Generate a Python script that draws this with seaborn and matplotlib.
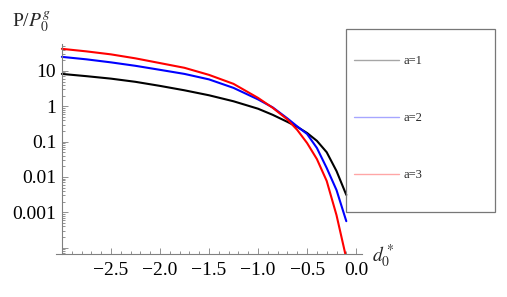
import numpy as np
import pandas as pd
import matplotlib
matplotlib.use("Agg")
import matplotlib.pyplot as plt
import seaborn as sns
from matplotlib.patches import Rectangle
from matplotlib.ticker import FixedLocator, FuncFormatter

# значення
d0 = [-3.0, -2.75, -2.5, -2.25, -2.0, -1.75, -1.5, -1.25, -1.0,
      -0.85, -0.7, -0.6, -0.5, -0.4, -0.3, -0.2, -0.1]
p_a1 = [8.2, 7.08, 6.03, 4.9, 3.76, 2.82, 2.04, 1.38, 0.85,
        0.57, 0.36, 0.26, 0.175, 0.105, 0.050, 0.0147, 0.0031]
p_a2 = [24.9, 21.2, 17.4, 13.9, 10.7, 8.2, 5.74, 3.30, 1.56,
        0.925, 0.45, 0.268, 0.164, 0.066, 0.0179, 0.00426, 0.00056]
p_a3 = [42.0, 35.6, 29.3, 22.6, 16.6, 12.2, 7.7, 4.29, 1.72,
        0.90, 0.42, 0.213, 0.091, 0.032, 0.0077, 0.00083, 0.00005]
labels = ["a=1", "a=2", "a=3"]
colors = ["black", "blue", "red"]

y_ticks = [10, 1, 0.1, 0.01, 0.001, 0.0001]
y_tick_labels = ["10", "1", "0.1", "0.01", "0.001", ""]
x_ticks = [-2.5, -2.0, -1.5, -1.0, -0.5, 0.0]

df = pd.DataFrame({
    "d": d0 * 3,
    "P": p_a1 + p_a2 + p_a3,
    "a": [labels[0]] * len(d0) + [labels[1]] * len(d0) + [labels[2]] * len(d0),
})

sns.set_style("ticks")
plt.rcParams["font.family"] = ["Liberation Serif", "DejaVu Serif"]
plt.rcParams["mathtext.fontset"] = "stix"

fig = plt.figure(figsize=(5.07, 2.97), dpi=100)
ax = fig.add_axes([56 / 507, 1 - 254 / 297, 306 / 507, 210 / 297])

sns.lineplot(data=df, x="d", y="P", hue="a", palette=colors, linewidth=1.5,
             legend=False, ax=ax)

ax.set_yscale("log")
ax.set_xlim(-3.06, 0.06)
ax.set_ylim(10 ** -4.18, 10 ** 1.76)
ax.set_xlabel("")
ax.set_ylabel("")

ax.spines["right"].set_visible(False)
ax.spines["top"].set_visible(False)
ax.spines["left"].set_position(("data", -3.0))
for s in ["left", "bottom"]:
    ax.spines[s].set_color("#808080")
    ax.spines[s].set_linewidth(0.8)

ax.yaxis.set_major_locator(FixedLocator(y_ticks))
ax.yaxis.set_major_formatter(FuncFormatter(
    lambda v, pos: y_tick_labels[pos] if pos is not None and pos < len(y_tick_labels) else ""))
minors = [m * 10.0 ** e for e in range(-5, 2) for m in range(2, 10)]
ax.yaxis.set_minor_locator(FixedLocator(minors))
ax.xaxis.set_major_locator(FixedLocator(x_ticks))
ax.xaxis.set_minor_locator(FixedLocator(np.round(np.arange(-3.0, 0.05, 0.1), 2)))
ax.xaxis.set_major_formatter(FuncFormatter(lambda v, pos: f"{v:.1f}".replace("-", "\u2212")))

ax.tick_params(which="both", direction="in", color="#808080", width=0.6,
               labelsize=14, labelcolor="black")
ax.tick_params(which="major", length=4)
ax.tick_params(which="minor", length=2)
ax.tick_params(axis="x", pad=6)
ax.tick_params(axis="y", pad=4)

fig.text(12 / 507, 1 - 27 / 297, r"P/$P_0^g$", fontsize=14, ha="left", va="baseline")
fig.text(372 / 507, 1 - 262 / 297, r"$d_0^*$", fontsize=14, ha="left", va="baseline")

# рамка легенди
fig.patches.append(Rectangle((346 / 507, 1 - 212 / 297), 149 / 507, 183 / 297,
                             transform=fig.transFigure, fill=False,
                             edgecolor="#777777", linewidth=0.9))
leg = ax.legend(handles=ax.lines[:3], labels=labels, loc="upper left",
                bbox_to_anchor=(354 / 507, 1 - 55 / 297), bbox_transform=fig.transFigure,
                frameon=False, fontsize=9, borderpad=0, borderaxespad=0,
                handlelength=3.6, handletextpad=0.4, labelspacing=3.6)
for line in leg.get_lines():
    line.set_linewidth(1.0)
    line.set_alpha(0.35)

fig.savefig("out.png", dpi=100)
